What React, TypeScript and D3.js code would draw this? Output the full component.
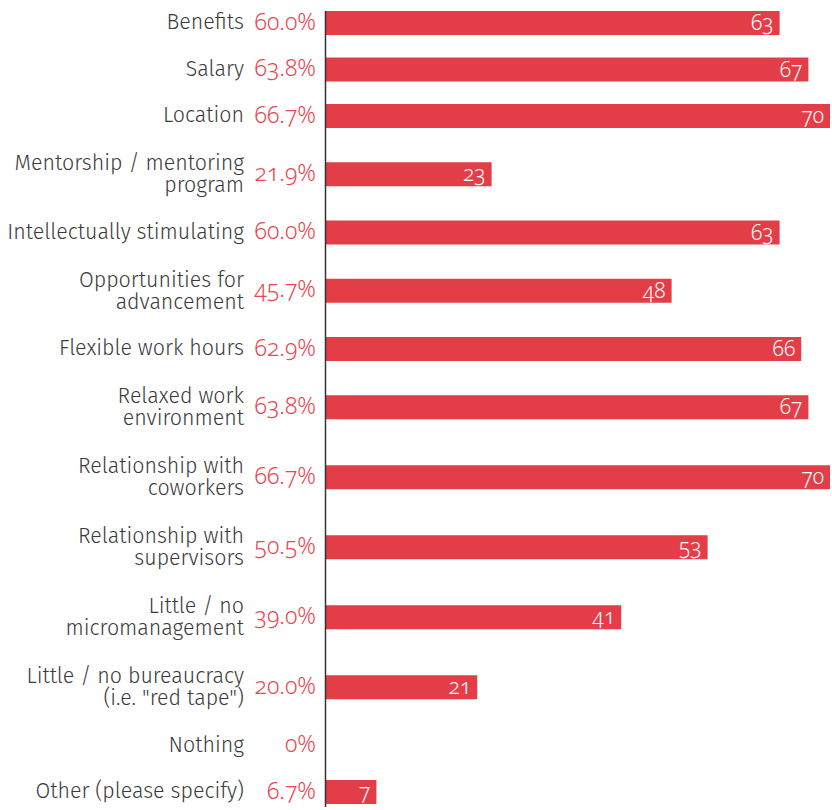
import React from "react";
import * as d3 from "d3";

const categories: string[] = [
  "Benefits",
  "Salary",
  "Location",
  "Mentorship / mentoring\nprogram",
  "Intellectually stimulating",
  "Opportunities for\nadvancement",
  "Flexible work hours",
  "Relaxed work\nenvironment",
  "Relationship with\ncoworkers",
  "Relationship with\nsupervisors",
  "Little / no\nmicromanagement",
  "Little / no bureaucracy\n(i.e. \"red tape\")",
  "Nothing",
  "Other (please specify)",
];
const counts: number[] = [63, 67, 70, 23, 63, 48, 66, 67, 70, 53, 41, 21, 0, 7];
const percentLabels: string[] = [
  "60.0%", "63.8%", "66.7%", "21.9%", "60.0%", "45.7%", "62.9%",
  "63.8%", "66.7%", "50.5%", "39.0%", "20.0%", "0%", "6.7%",
];

const W = 832;
const H = 810;
const AXIS_X = 326;
const X_END = 830;
const ROW_PAD = 23;
const LINE_H = 23.5;
const BAR_H = 24;
const TOP = -0.25;

const BAR_COLOR = "#e33e47";
const PCT_COLOR = "#e8474f";
const LABEL_COLOR = "#3a3a3a";
const FONT = "'Fira Sans', 'Noto Sans', sans-serif";
const NUM_FONT = "'Noto Sans', sans-serif";

export default function App() {
  const x = d3.scaleLinear().domain([0, 70]).range([AXIS_X, X_END]);
  const lines = categories.map((c) => c.split("\n"));
  const heights = lines.map((l) => ROW_PAD + l.length * LINE_H);
  const tops = [0, ...Array.from(d3.cumsum(heights))].map((v) => v + TOP);
  const centers = heights.map((h, i) => tops[i] + h / 2);
  const firstBarTop = centers[0] - BAR_H / 2;
  const lastBarBottom = centers[centers.length - 1] + BAR_H / 2 + 3;

  return (
    <svg
      width={W}
      height={H}
      style={{ position: "absolute", left: 0, top: 0, display: "block" }}
      fontFamily={FONT}
    >
      {categories.map((c, i) => {
        const cy = centers[i];
        const ls = lines[i];
        return (
          <g key={c}>
            {counts[i] > 0 && (
              <rect
                x={x(0)}
                y={cy - BAR_H / 2}
                width={x(counts[i]) - x(0)}
                height={BAR_H}
                fill={BAR_COLOR}
              />
            )}
            {counts[i] > 0 && (
              <text
                x={x(counts[i]) - 6}
                y={cy + 7}
                textAnchor="end"
                fill="#ffffff"
                fontSize={21}
                fontWeight={300}
                fontFamily={NUM_FONT}
                style={{ fontVariantNumeric: "oldstyle-nums", fontFeatureSettings: "'onum' 1" }}
              >
                {counts[i]}
              </text>
            )}
            <text
              x={316}
              y={cy + 6.5}
              textAnchor="end"
              fill={PCT_COLOR}
              fontSize={23}
              fontWeight={300}
              fontFamily={NUM_FONT}
              style={{ fontVariantNumeric: "oldstyle-nums", fontFeatureSettings: "'onum' 1" }}
            >
              {percentLabels[i]}
            </text>
            <text
              x={244}
              textAnchor="end"
              fill={LABEL_COLOR}
              fontSize={21.4}
              fontWeight={300}
            >
              {ls.length === 1 ? (
                <tspan x={244} y={cy + 6}>{ls[0]}</tspan>
              ) : (
                ls.map((t, j) => (
                  <tspan key={j} x={244} y={cy - 4 + j * 22}>
                    {t}
                  </tspan>
                ))
              )}
            </text>
          </g>
        );
      })}
      <line
        x1={AXIS_X - 0.5}
        x2={AXIS_X - 0.5}
        y1={firstBarTop}
        y2={lastBarBottom}
        stroke="#333333"
        strokeWidth={1.5}
      />
    </svg>
  );
}
